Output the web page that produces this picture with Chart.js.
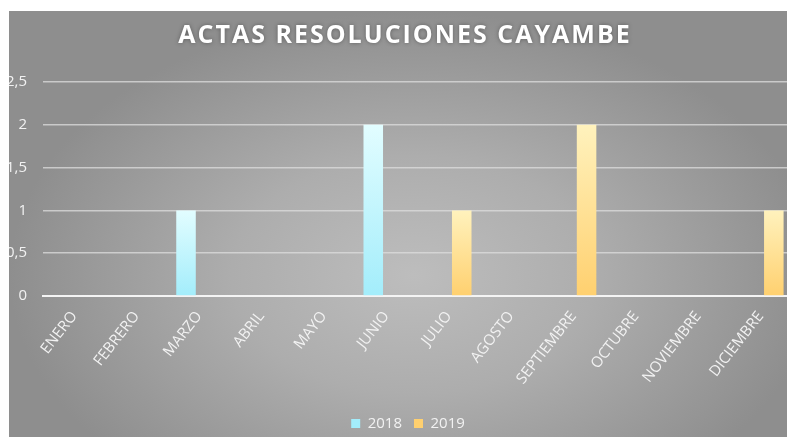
<!DOCTYPE html>
<html>
<head>
<meta charset="utf-8">
<script src="https://cdn.jsdelivr.net/npm/chart.js@4.4.0/dist/chart.umd.min.js"></script>
<style>
  html, body { margin: 0; padding: 0; background: #fff; }
  #frame {
    position: absolute; left: 9px; top: 11px; width: 778px; height: 426px;
    overflow: hidden;
    background: radial-gradient(ellipse farthest-side at 52% 62%, #bdbdbd 0%, #adadad 45%, #8e8e8e 100%);
  }
  #wrap { position: absolute; left: -9px; top: 0; width: 816px; height: 430px; }
</style>
</head>
<body>
<div id="frame"><div id="wrap"><canvas id="chart" width="816" height="430"></canvas></div></div>
<script>
const chartTitle = 'ACTAS RESOLUCIONES CAYAMBE';
const months = ['ENERO', 'FEBRERO', 'MARZO', 'ABRIL', 'MAYO', 'JUNIO', 'JULIO',
  'AGOSTO', 'SEPTIEMBRE', 'OCTUBRE', 'NOVIEMBRE', 'DICIEMBRE'];
const values2018 = [0, 0, 1, 0, 0, 2, 0, 0, 0, 0, 0, 0];
const values2019 = [0, 0, 0, 0, 0, 0, 1, 0, 2, 0, 0, 1];
const seriesNames = ['2018', '2019'];
const yTicks = [0, 0.5, 1, 1.5, 2, 2.5];
const yTickLabels = ['0', '0,5', '1', '1,5', '2', '2,5'];

const labelColor = '#f2f2f2';
Chart.defaults.font.family = "'Open Sans', sans-serif";

// vertical gradient per bar, light at the top
function barFill(top, bottom) {
    return (ctx) => {
        if (ctx.type !== 'data') return bottom;
        const chart = ctx.chart;
        const yScale = chart.scales.y;
        if (!chart.chartArea || !yScale) return bottom;
        const y0 = yScale.getPixelForValue(0);
        const y1 = yScale.getPixelForValue(ctx.raw || 0);
        if (y0 === y1) return bottom;
        const g = chart.ctx.createLinearGradient(0, y1, 0, y0);
        g.addColorStop(0, top);
        g.addColorStop(1, bottom);
        return g;
    };
}

// spaced-out title with a soft glow, like the original
const spacedTitle = {
    id: 'spacedTitle',
    afterDraw(chart) {
        const c = chart.ctx;
        c.save();
        c.font = "bold 25px 'Open Sans', sans-serif";
        c.letterSpacing = '2px';
        c.textAlign = 'center';
        c.textBaseline = 'middle';
        c.shadowColor = 'rgba(0,0,0,0.35)';
        c.shadowBlur = 4;
        c.fillStyle = '#ffffff';
        c.fillText(chartTitle, 405, 25);
        c.restore();
    }
};

const ctx = document.getElementById('chart').getContext('2d');
new Chart(ctx, {
    type: 'bar',
    data: {
        labels: months,
        datasets: [{
            label: seriesNames[0],
            data: values2018,
            backgroundColor: barFill('#e2fdff', '#a3edfb'),
            borderWidth: 0
        }, {
            label: seriesNames[1],
            data: values2019,
            backgroundColor: barFill('#fff2bd', '#ffd06f'),
            borderWidth: 0
        }]
    },
    plugins: [spacedTitle],
    options: {
        responsive: false,
        animation: false,
        categoryPercentage: 0.835,
        barPercentage: 0.75,
        layout: { padding: { left: 0, right: 0, top: 71, bottom: 0 } },
        plugins: {
            title: { display: false },
            legend: {
                position: 'bottom',
                labels: { boxWidth: 9, boxHeight: 9, color: labelColor, font: { size: 15 }, padding: 12 }
            },
            tooltip: { enabled: false }
        },
        scales: {
            x: {
                grid: { display: false, drawTicks: false },
                border: { color: '#f4f4f4', width: 2 },
                ticks: { color: labelColor, font: { size: 15 }, maxRotation: 52, minRotation: 52, padding: 12 },
                afterFit: (scale) => { scale.height = 108; }
            },
            y: {
                min: 0,
                max: 2.5,
                grid: {
                    drawTicks: false,
                    color: (c) => c.tick && c.tick.value === 0 ? 'rgba(0,0,0,0)' : 'rgba(222,222,222,0.75)',
                    lineWidth: 1.5
                },
                border: { display: false },
                ticks: {
                    stepSize: 0.5,
                    color: labelColor,
                    font: { size: 15 },
                    padding: 16,
                    callback: (v) => {
                        const i = yTicks.indexOf(v);
                        return i >= 0 ? yTickLabels[i] : String(v).replace('.', ',');
                    }
                },
                afterFit: (scale) => { scale.width = 43; }
            },
            // empty strip on the right so the legend sits where the original has it
            yRight: {
                position: 'right',
                grid: { display: false, drawTicks: false },
                border: { display: false },
                ticks: { display: false },
                afterFit: (scale) => { scale.width = 24; }
            }
        }
    }
});
</script>
</body>
</html>
